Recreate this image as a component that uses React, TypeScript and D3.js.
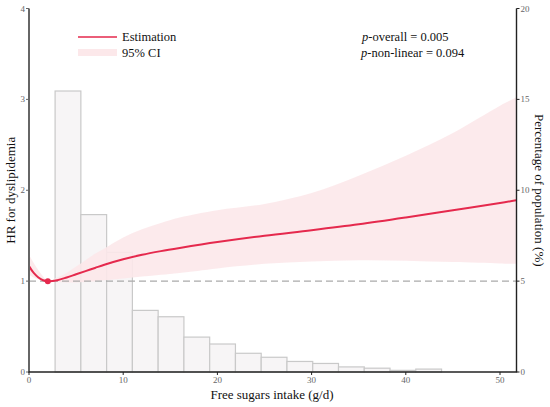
import React from "react";
import * as d3 from "d3";

const W = 550;
const H = 407;

// Restricted cubic spline estimate (HR) by free sugars intake
const xs = [0, 0.5, 1, 1.5, 2, 3, 4, 5, 6, 7, 8, 10, 12, 14, 16, 20, 25, 30, 35, 40, 45, 50, 51.7];
const hr = [1.165, 1.09, 1.04, 1.01, 1.0, 1.01, 1.04, 1.075, 1.11, 1.145, 1.18, 1.24, 1.29, 1.33, 1.365, 1.43, 1.5, 1.56, 1.625, 1.7, 1.78, 1.86, 1.89];
const upper = [1.29, 1.2, 1.12, 1.05, 1.0, 1.04, 1.09, 1.16, 1.23, 1.3, 1.36, 1.48, 1.57, 1.64, 1.7, 1.78, 1.85, 1.97, 2.16, 2.38, 2.63, 2.93, 3.02];
const lower = [1.07, 1.04, 1.02, 1.005, 1.0, 0.99, 0.985, 0.985, 0.99, 1.0, 1.01, 1.03, 1.05, 1.07, 1.09, 1.14, 1.19, 1.215, 1.23, 1.225, 1.21, 1.195, 1.19];

// Histogram of population distribution (%)
const binStart = 2.77;
const binWidth = 2.735;
const histPct = [15.46, 8.66, 6.58, 3.39, 3.04, 1.92, 1.54, 1.03, 0.81, 0.58, 0.47, 0.28, 0.21, 0.09, 0.16];

const xTicks = [0, 10, 20, 30, 40, 50];
const yLeftTicks = [0, 1, 2, 3, 4];
const yRightTicks = [0, 5, 10, 15, 20];

const refX = 2;
const refHR = 1;

const RED = "#e5294d";
const BAND = "#fce8ea";
const SERIF = '"Liberation Serif", "Times New Roman", Times, serif';

export default function App() {
  const x = d3.scaleLinear().domain([0, 51.75]).range([29, 516.5]);
  const yL = d3.scaleLinear().domain([0, 4]).range([372, 8.5]);
  const yR = d3.scaleLinear().domain([0, 20]).range([372, 8.5]);

  const idx = xs.map((_, i) => i);
  const line = d3
    .line<number>()
    .x((i) => x(xs[i]))
    .y((i) => yL(hr[i]))
    .curve(d3.curveCatmullRom.alpha(0.5));
  const area = d3
    .area<number>()
    .x((i) => x(xs[i]))
    .y0((i) => yL(lower[i]))
    .y1((i) => yL(upper[i]))
    .curve(d3.curveCatmullRom.alpha(0.5));

  const x0 = x.range()[0];
  const x1 = x.range()[1];
  const yb = yL(0);
  const yt = yL(4);

  return (
    <svg
      width={W}
      height={H}
      style={{ position: "absolute", left: 0, top: 0, background: "#fff" }}
    >
      <g style={{ fontFamily: SERIF }}>
        {/* histogram */}
        {histPct.map((v, i) => {
          const a = binStart + i * binWidth;
          const b = a + binWidth;
          return (
            <rect
              key={i}
              x={x(a)}
              y={yR(v)}
              width={x(b) - x(a)}
              height={yR(0) - yR(v)}
              fill="#f7f5f6"
              stroke="#c9c9c9"
              strokeWidth={1.2}
            />
          );
        })}
        {/* CI band */}
        <path d={area(idx) || ""} fill={BAND} fillOpacity={0.9} />
        {/* reference line */}
        <line x1={x0} x2={x1} y1={yL(1)} y2={yL(1)} stroke="#aaaaaa" strokeWidth={1.4} strokeDasharray="7,4" />
        {/* estimate */}
        <path d={line(idx) || ""} fill="none" stroke={RED} strokeWidth={2} />
        <circle cx={x(refX)} cy={yL(refHR)} r={3} fill={RED} />

        {/* axes */}
        <line x1={x0} x2={x0} y1={yt} y2={yb} stroke="#666" strokeWidth={2} />
        <line x1={x1} x2={x1} y1={yt} y2={yb} stroke="#222" strokeWidth={1.4} />
        <line x1={x0 - 1} x2={x1 + 0.7} y1={yb} y2={yb} stroke="#222" strokeWidth={1.4} />

        {yLeftTicks.map((t) => (
          <g key={"l" + t}>
            <line x1={x0 - 3} x2={x0} y1={yL(t)} y2={yL(t)} stroke="#666" strokeWidth={1} />
            <text x={x0 - 4} y={yL(t) + 3} fontSize={9} fill="#666" textAnchor="end">
              {t}
            </text>
          </g>
        ))}
        {yRightTicks.map((t) => (
          <g key={"r" + t}>
            <line x1={x1} x2={x1 + 3} y1={yR(t)} y2={yR(t)} stroke="#222" strokeWidth={1} />
            <text x={x1 + 4} y={yR(t) + 3} fontSize={9} fill="#666" textAnchor="start">
              {t}
            </text>
          </g>
        ))}
        {xTicks.map((t) => (
          <g key={"x" + t}>
            <line x1={x(t)} x2={x(t)} y1={yb} y2={yb + 3} stroke="#222" strokeWidth={1} />
            <text x={x(t)} y={yb + 11} fontSize={9} fill="#666" textAnchor="middle">
              {t}
            </text>
          </g>
        ))}

        {/* axis titles */}
        <text x={272} y={399} fontSize={13} fill="#111" textAnchor="middle">
          Free sugars intake (g/d)
        </text>
        <text
          transform={`translate(15, ${(yt + yb) / 2}) rotate(-90)`}
          fontSize={13}
          fill="#111"
          textAnchor="middle"
        >
          HR for dyslipidemia
        </text>
        <text
          transform={`translate(535, ${(yt + yb) / 2}) rotate(90)`}
          fontSize={13}
          fill="#111"
          textAnchor="middle"
        >
          Percentage of population (%)
        </text>

        {/* legend */}
        <line x1={78} x2={117} y1={37} y2={37} stroke={RED} strokeWidth={1.5} />
        <text x={122} y={41} fontSize={12.5} fill="#111">
          Estimation
        </text>
        <rect x={78} y={49} width={39} height={7} fill={BAND} />
        <text x={122} y={57} fontSize={12.5} fill="#111">
          95% CI
        </text>

        {/* p values */}
        <text x={362} y={41} fontSize={12.5} fill="#111">
          <tspan fontStyle="italic">p</tspan>-overall = 0.005
        </text>
        <text x={361} y={57} fontSize={12.5} fill="#111">
          <tspan fontStyle="italic">p</tspan>-non-linear = 0.094
        </text>
      </g>
    </svg>
  );
}
